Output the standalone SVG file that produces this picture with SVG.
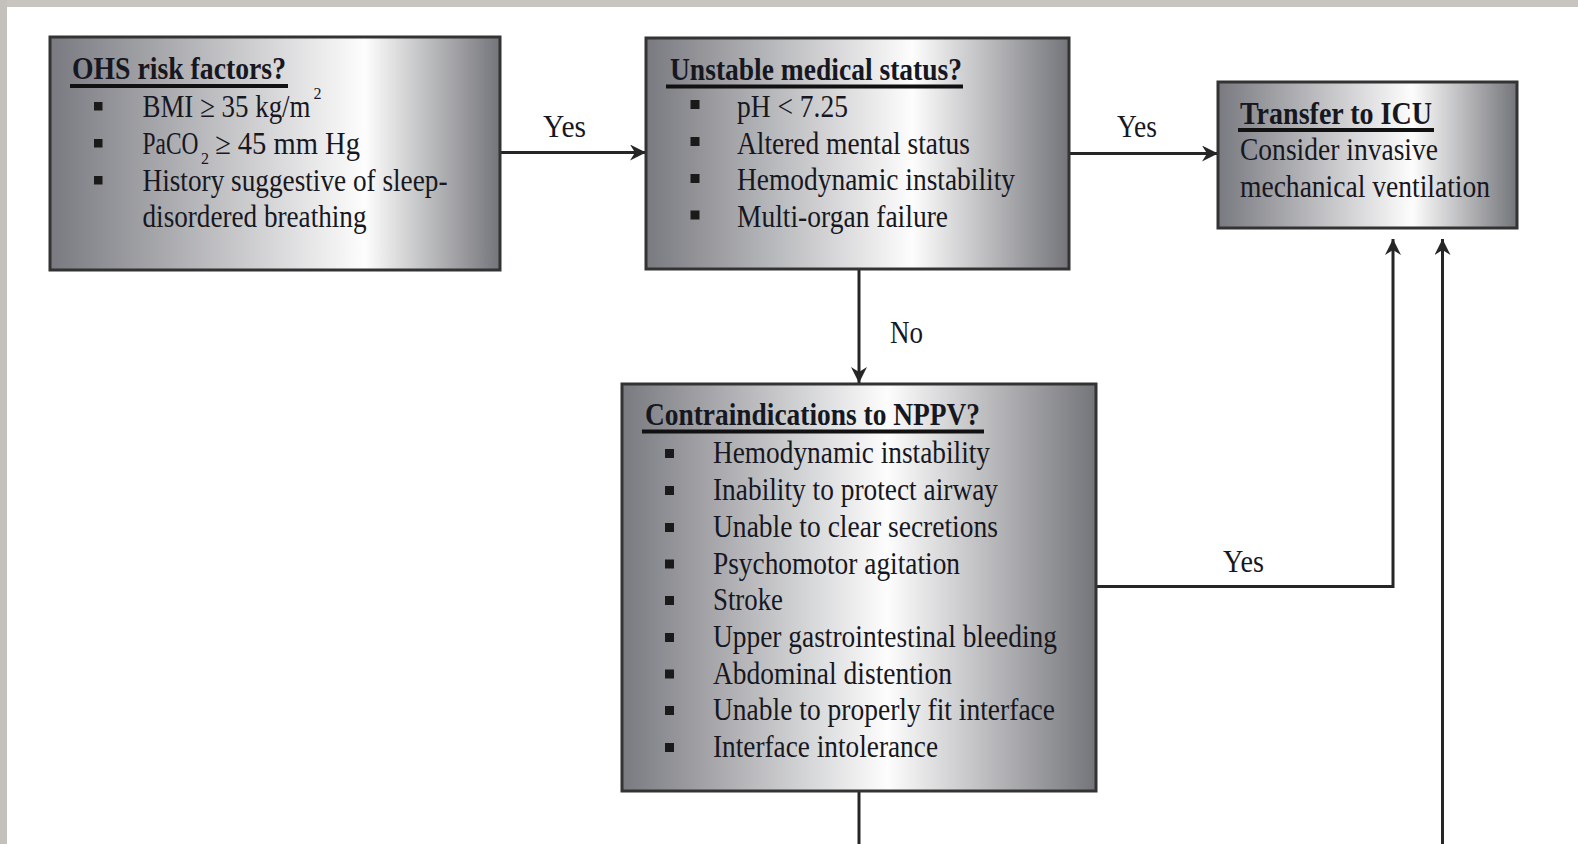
<svg xmlns="http://www.w3.org/2000/svg" width="1578" height="844" viewBox="0 0 1578 844">
<style>
.box{stroke:#333;stroke-width:3}
.t{font-family:"Liberation Serif","Times New Roman",serif;font-size:31px;fill:#17171f}
.b{font-weight:bold}
.s{font-size:16px}
.ul{stroke:#111;stroke-width:4}
.bul{fill:#1a1a1a}
.conn{stroke:#262626;stroke-width:3;fill:none}
</style>
<defs>
<linearGradient id="g1" x1="0" y1="0" x2="1" y2="0">
<stop offset="0" stop-color="#797a80"/><stop offset="0.7" stop-color="#fdfdfd"/><stop offset="1" stop-color="#74757a"/>
</linearGradient>
<linearGradient id="g2" x1="0" y1="0" x2="1" y2="0">
<stop offset="0" stop-color="#797a80"/><stop offset="0.63" stop-color="#fdfdfd"/><stop offset="1" stop-color="#74757a"/>
</linearGradient>
<linearGradient id="g3" x1="0" y1="0" x2="1" y2="0">
<stop offset="0" stop-color="#797a80"/><stop offset="0.65" stop-color="#fdfdfd"/><stop offset="1" stop-color="#74757a"/>
</linearGradient>
<linearGradient id="g4" x1="0" y1="0" x2="1" y2="0">
<stop offset="0" stop-color="#797a80"/><stop offset="0.56" stop-color="#fdfdfd"/><stop offset="1" stop-color="#74757a"/>
</linearGradient>
<marker id="arr" markerUnits="userSpaceOnUse" markerWidth="17" markerHeight="16" refX="16" refY="8" orient="auto">
<path d="M0,0 L16,8 L0,16 L5,8 Z" fill="#262626"/>
</marker>
</defs>
<rect x="0" y="0" width="1578" height="844" fill="#ffffff"/>
<rect x="0" y="0" width="1578" height="7" fill="#c8c4c0"/>
<rect x="0" y="0" width="7" height="844" fill="#c4c0bc"/>

<g id="connectors">
<line class="conn" x1="500" y1="152.5" x2="646" y2="152.5" marker-end="url(#arr)"/>
<line class="conn" x1="1069" y1="153.5" x2="1218" y2="153.5" marker-end="url(#arr)"/>
<line class="conn" x1="859" y1="269" x2="859" y2="383" marker-end="url(#arr)"/>
<polyline class="conn" points="1096,586.5 1393,586.5 1393,239" marker-end="url(#arr)"/>
<line class="conn" x1="1442.5" y1="844" x2="1442.5" y2="239" marker-end="url(#arr)"/>
<line class="conn" x1="859" y1="791" x2="859" y2="844"/>
<text class="t" x="543" y="137" textLength="43" lengthAdjust="spacingAndGlyphs">Yes</text>
<text class="t" x="1117" y="137" textLength="40" lengthAdjust="spacingAndGlyphs">Yes</text>
<text class="t" x="890" y="343" textLength="33" lengthAdjust="spacingAndGlyphs">No</text>
<text class="t" x="1223" y="571.5" textLength="41" lengthAdjust="spacingAndGlyphs">Yes</text>
</g>

<g id="node-ohs">
<rect class="box" x="50" y="37" width="450" height="233" fill="url(#g1)"/>
<text class="t b" x="72" y="79" textLength="214" lengthAdjust="spacingAndGlyphs">OHS risk factors?</text>
<line class="ul" x1="70" y1="86" x2="288" y2="86"/>
<rect class="bul" x="94" y="102" width="8.5" height="8.5"/>
<rect class="bul" x="94" y="139" width="8.5" height="8.5"/>
<rect class="bul" x="94" y="176" width="8.5" height="8.5"/>
<text class="t"><tspan x="142.5" y="117" textLength="168" lengthAdjust="spacingAndGlyphs">BMI ≥ 35 kg/m</tspan><tspan class="s" x="313.5" y="99">2</tspan></text>
<text class="t"><tspan x="142.5" y="154" textLength="56" lengthAdjust="spacingAndGlyphs">PaCO</tspan><tspan class="s" x="201" y="164">2</tspan><tspan x="215" y="154" textLength="145" lengthAdjust="spacingAndGlyphs">≥ 45 mm Hg</tspan></text>
<text class="t" x="142.5" y="190.5" textLength="305" lengthAdjust="spacingAndGlyphs">History suggestive of sleep-</text>
<text class="t" x="142.5" y="227" textLength="224" lengthAdjust="spacingAndGlyphs">disordered breathing</text>
</g>

<g id="node-unstable">
<rect class="box" x="646" y="38" width="423" height="231" fill="url(#g2)"/>
<text class="t b" x="670" y="80" textLength="292" lengthAdjust="spacingAndGlyphs">Unstable medical status?</text>
<line class="ul" x1="666" y1="86.5" x2="963" y2="86.5"/>
<rect class="bul" x="690.5" y="100" width="9" height="9"/>
<rect class="bul" x="690.5" y="137" width="9" height="9"/>
<rect class="bul" x="690.5" y="174" width="9" height="9"/>
<rect class="bul" x="690.5" y="210.5" width="9" height="9"/>
<text class="t" x="737" y="117" textLength="111" lengthAdjust="spacingAndGlyphs">pH &lt; 7.25</text>
<text class="t" x="737" y="153.5" textLength="233" lengthAdjust="spacingAndGlyphs">Altered mental status</text>
<text class="t" x="737" y="190" textLength="278" lengthAdjust="spacingAndGlyphs">Hemodynamic instability</text>
<text class="t" x="737" y="227" textLength="211" lengthAdjust="spacingAndGlyphs">Multi-organ failure</text>
</g>

<g id="node-icu">
<rect class="box" x="1218" y="82" width="299" height="146" fill="url(#g3)"/>
<text class="t b" x="1240" y="124" textLength="192" lengthAdjust="spacingAndGlyphs">Transfer to ICU</text>
<line class="ul" x1="1238" y1="130" x2="1434" y2="130"/>
<text class="t" x="1240" y="160" textLength="198" lengthAdjust="spacingAndGlyphs">Consider invasive</text>
<text class="t" x="1240" y="197" textLength="250" lengthAdjust="spacingAndGlyphs">mechanical ventilation</text>
</g>

<g id="node-contra">
<rect class="box" x="622" y="384" width="474" height="407" fill="url(#g4)"/>
<text class="t b" x="645" y="425" textLength="335" lengthAdjust="spacingAndGlyphs">Contraindications to NPPV?</text>
<line class="ul" x1="642" y1="431.5" x2="984" y2="431.5"/>
<g class="bul">
<rect x="665" y="449" width="9" height="9"/>
<rect x="665" y="486" width="9" height="9"/>
<rect x="665" y="523" width="9" height="9"/>
<rect x="665" y="559.5" width="9" height="9"/>
<rect x="665" y="596" width="9" height="9"/>
<rect x="665" y="633" width="9" height="9"/>
<rect x="665" y="669.5" width="9" height="9"/>
<rect x="665" y="706" width="9" height="9"/>
<rect x="665" y="743" width="9" height="9"/>
</g>
<text class="t" x="713" y="463" textLength="277" lengthAdjust="spacingAndGlyphs">Hemodynamic instability</text>
<text class="t" x="713" y="500" textLength="285" lengthAdjust="spacingAndGlyphs">Inability to protect airway</text>
<text class="t" x="713" y="537" textLength="285" lengthAdjust="spacingAndGlyphs">Unable to clear secretions</text>
<text class="t" x="713" y="573.5" textLength="247" lengthAdjust="spacingAndGlyphs">Psychomotor agitation</text>
<text class="t" x="713" y="610" textLength="70" lengthAdjust="spacingAndGlyphs">Stroke</text>
<text class="t" x="713" y="647" textLength="344" lengthAdjust="spacingAndGlyphs">Upper gastrointestinal bleeding</text>
<text class="t" x="713" y="683.5" textLength="239" lengthAdjust="spacingAndGlyphs">Abdominal distention</text>
<text class="t" x="713" y="720" textLength="342" lengthAdjust="spacingAndGlyphs">Unable to properly fit interface</text>
<text class="t" x="713" y="757" textLength="225" lengthAdjust="spacingAndGlyphs">Interface intolerance</text>
</g>
</svg>
